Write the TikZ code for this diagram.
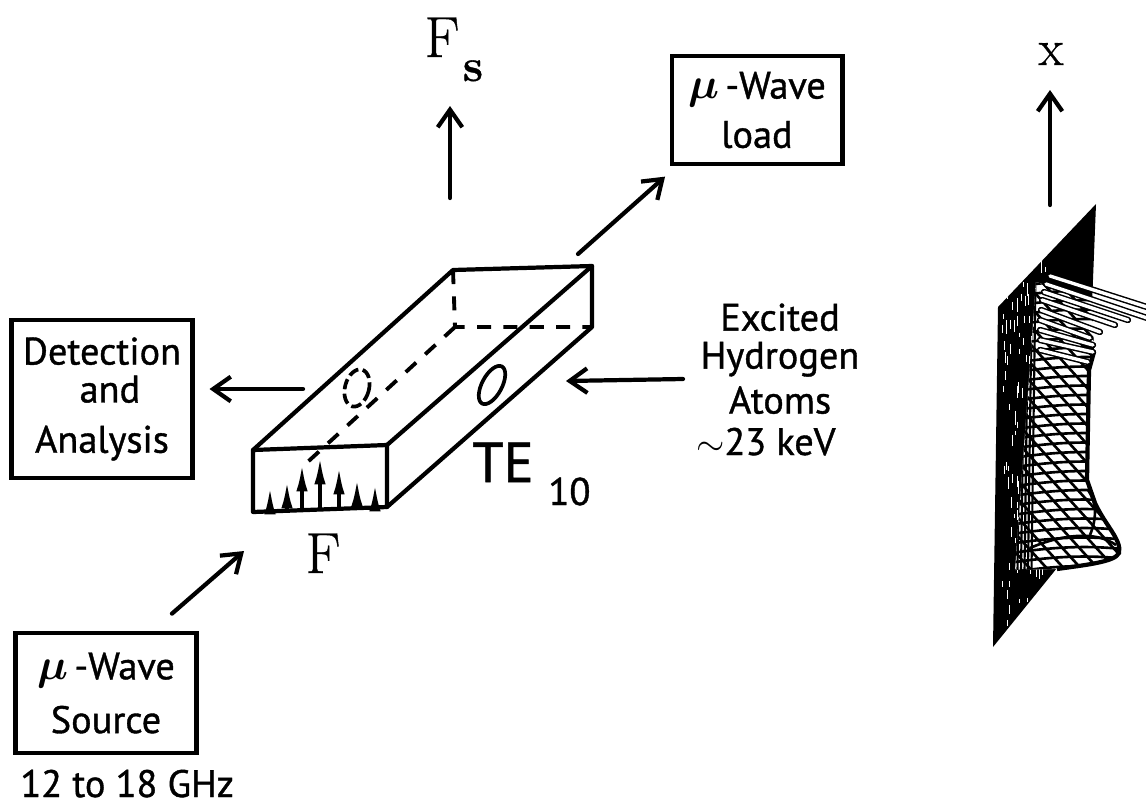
\documentclass[tikz,border=0pt]{standalone}
\usepackage{fontspec}
\usetikzlibrary{arrows.meta, calc}
\newfontfamily\lblfont[FakeBold=1]{PT Sans}
\newfontfamily\serlbl[FakeBold=0.7]{Latin Modern Roman}
\newcommand{\mubig}{{\fontsize{31}{31}\selectfont\boldmath$\mu$}}

\tikzset{
    mwbox/.style={draw, line width=2.3pt, inner sep=0pt, align=center, font=\lblfont\fontsize{21.8}{21.6}\selectfont},
    flowarrow/.style={line width=2.4pt, line cap=round, -{Straight Barb[length=10pt,width=14pt,line width=2.4pt]}},
    guideline/.style={line width=2.4pt, line join=round, line cap=round},
    hiddenline/.style={line width=2.2pt, dash pattern=on 8pt off 7pt},
    fieldarrow/.style={line width=1.8pt, -{Latex[length=15pt,width=6.5pt]}},
    plainlbl/.style={inner sep=0pt, anchor=base, font=\lblfont\fontsize{21.8}{21.6}\selectfont}
}

\begin{document}
\begin{tikzpicture}[x=0.02cm, y=-0.02cm]
        \useasboundingbox (0,0) rectangle (1146,806);

        % Boxes
        \node[mwbox, minimum width=3.42cm, minimum height=2.16cm] (loadbox) at (757,110) {\mubig\,-Wave\\[6.4pt]load};
        \node[mwbox, minimum width=3.62cm, minimum height=3.16cm] (detectbox) at (102,399) {Detection\\\hspace*{9pt}and\\[7pt]Analysis};
        \node[mwbox, minimum width=3.62cm, minimum height=2.4cm] (sourcebox) at (106,693) {\mubig\,-Wave\\[9pt]Source};

        % Labels
        \node[plainlbl, anchor=base west] (freqlbl) at (20,797) {12 to 18 GHz};
        \node[plainlbl, align=center, anchor=base] (atomslbl) at (780,455) {Excited\\Hydrogen\\[4pt]Atoms\\[2pt]\llap{$\sim$}23 keV};
        \node[plainlbl, anchor=base west, font=\lblfont\fontsize{32}{34}\selectfont] (telbl) at (472,482) {TE};
        \node[plainlbl, anchor=base west, font=\lblfont\fontsize{22}{24}\selectfont] (tenlbl) at (548,505) {10};
        \node[inner sep=0pt, anchor=base, font=\serlbl\fontsize{33}{35}\selectfont] (fslbl) at (442,57) {F};
        \node[inner sep=0pt, anchor=base, font=\serlbl\bfseries\fontsize{26}{28}\selectfont] (fssub) at (473,81) {s};
        \node[inner sep=0pt, anchor=base, font=\serlbl\fontsize{33}{35}\selectfont] (flbl) at (323,573) {F};
        \node[inner sep=0pt, anchor=base, font=\serlbl\fontsize{29}{32}\selectfont] (xlbl) at (1051,65) {x};

        % Arrow ends
        \coordinate (fstail) at (450,198);
        \coordinate (fstip) at (450,106);
        \coordinate (loadtail) at (578,254);
        \coordinate (detecttail) at (303,389);
        \coordinate (atomstail) at (683,379);
        \coordinate (atomstip) at (566,381);
        \coordinate (sourcetip) at (244,551);
        \coordinate (xtail) at (1050,205);
        \coordinate (xtip) at (1050,90);

        % Arrows
        \draw[flowarrow] (fstail) -- (fstip);
        \draw[flowarrow, shorten >=0.32cm] (loadtail) -- ([xshift=-1.6cm]loadbox.south);
        \draw[flowarrow, shorten >=0.3cm] (detecttail) -- (detecttail -| detectbox.east);
        \draw[flowarrow] (atomstail) -- (atomstip);
        \draw[flowarrow, shorten <=0.53cm] ([xshift=0.92cm]sourcebox.north) -- (sourcetip);
        \draw[flowarrow] (xtail) -- (xtip);

        % Waveguide corners
        \coordinate (fronttl) at (253,450);
        \coordinate (fronttr) at (387,445);
        \coordinate (frontbr) at (387,507);
        \coordinate (frontbl) at (253,512);
        \coordinate (backtl) at (453,270);
        \coordinate (backtr) at (592,266);
        \coordinate (backbr) at (592,327);
        \coordinate (backbl) at (455,327);

        % Waveguide hidden edges
        \draw[hiddenline] (backtl) -- (backbl) -- (backbr);
        \draw[hiddenline, shorten >=1.4cm] (backbl) -- (frontbl);

        % Waveguide
        \draw[guideline] (fronttl) -- (fronttr) -- (frontbr) -- (frontbl) -- cycle;
        \draw[guideline] (fronttl) -- (backtl) -- (backtr) -- (backbr) -- (frontbr);
        \draw[guideline] (fronttr) -- (backtr);

        % Holes
        \draw[line width=2.1pt, dash pattern=on 6pt off 2.5pt, fill=white, rotate around={-15:(357,388)}] (357,388) ellipse (12 and 19);
        \draw[line width=2.1pt, rotate around={-28:(492,385)}] (492,385) ellipse (10 and 21);

        % Field arrows
        \foreach \fx/\ftop in {270/488, 287/482, 302/465, 320/458, 339/468, 357/480, 375/485}
            \draw[fieldarrow] (\fx,509) -- (\fx,\ftop);

        % Surface wall
        \fill (998,307) -- (1096,204) -- (1087,430) -- (1057,568) -- (993,647) -- cycle;
        \begin{scope}
            \clip (998,307) -- (1096,204) -- (1087,430) -- (1057,568) -- (993,647) -- cycle;
            \pgfmathsetseed{11}
            \foreach \i in {1,...,150} {
                \pgfmathsetmacro{\wx}{1002+rnd*50}
                \pgfmathsetmacro{\wy}{240+rnd*390}
                \draw[white, line width=0.5pt] (\wx,\wy) -- ++(0,4+rnd*10);
            }
        \end{scope}

        % Surface mesh
        \begin{scope}
            \clip (1036,282) -- (1092,300) -- (1094,352) -- (1089,370) -- (1087,480) -- (1095,503) .. controls (1105,525) and (1122,540) .. (1119,553) .. controls (1115,562) and (1085,565) .. (1057,569) -- (1015,570) -- cycle;
            \fill[white] (1000,270) rectangle (1130,580);
            \foreach \my in {280,289.5,...,590}
                \draw[line width=1.5pt] (1005,\my+8) .. controls (1045,\my+2) and (1085,\my-2) .. (1130,\my+4);
            \foreach \mx in {640,657,...,1120}
                \draw[line width=1.5pt] (\mx,270) -- ++(286,315);
            % Denser left side
            \foreach \mx in {1018,1021.5,...,1036}
                \draw[line width=1.2pt] (\mx,280) -- ++(-4,290);
        \end{scope}

        % Surface outline
        \draw[line width=2.4pt] (1094,352) -- (1089,370) -- (1087,480) -- (1095,503) .. controls (1105,525) and (1122,540) .. (1119,553) .. controls (1115,562) and (1085,565) .. (1057,569);
        \draw[line width=1.5pt] (1088,490) .. controls (1098,505) and (1096,520) .. (1090,535);
        \draw[line width=1.5pt] (1030,548) .. controls (1060,535) and (1095,530) .. (1116,545);

        % Surface spikes
        \foreach \sxa/\sya/\sxb/\syb in {1040/350/1088/362, 1040/340/1093/352, 1040/330/1093/345, 1040/320/1090/338, 1041/310/1100/332, 1042/300/1115/325, 1044/292/1128/320, 1046/284/1150/319, 1050/276/1150/308} {
            \draw[line width=3.6pt, line cap=round] (\sxa,\sya) -- (\sxb,\syb);
            \draw[white, line width=1.9pt, line cap=round] (\sxa,\sya) -- (\sxb,\syb);
        }
\end{tikzpicture}
\end{document}
